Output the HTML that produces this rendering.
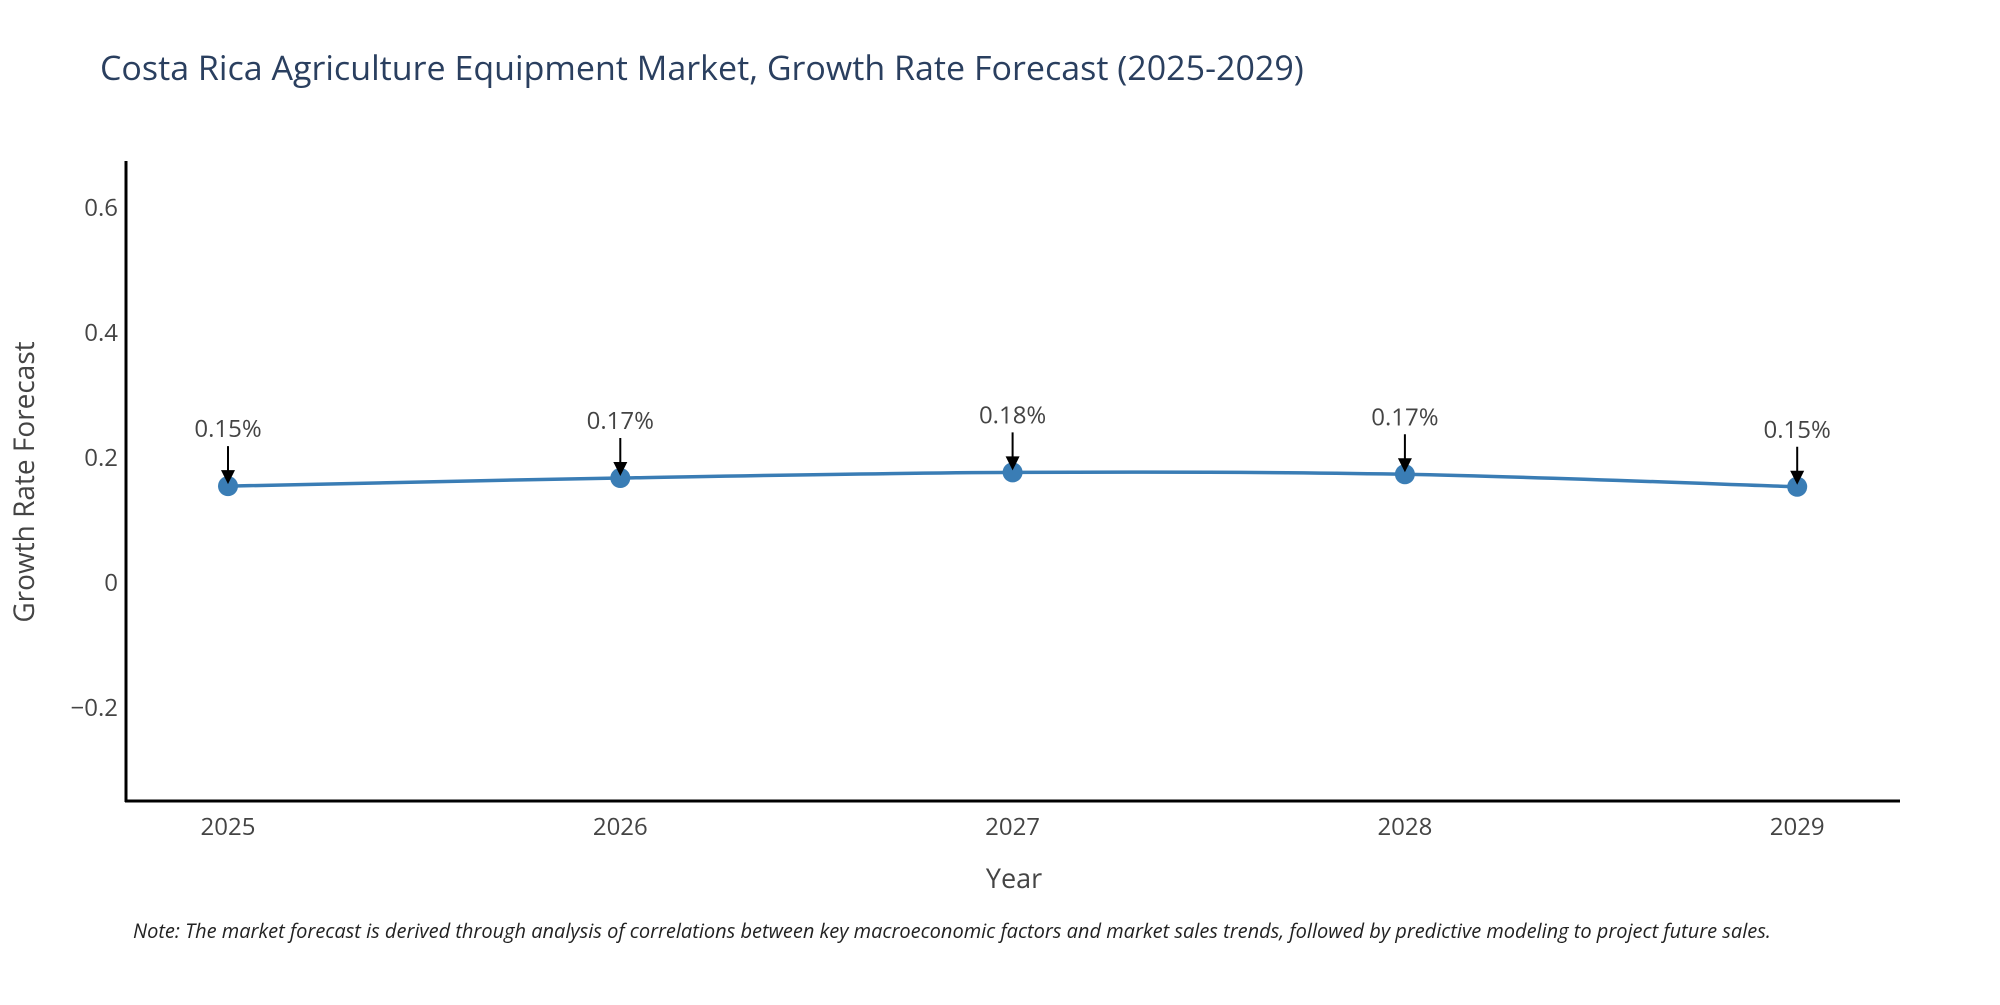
<!DOCTYPE html>
<html><head><meta charset="utf-8"><style>
body{margin:0;background:#fff;}
svg text{font-family:"Open Sans","Liberation Sans",sans-serif;}
</style></head><body>
<svg id="chart" width="2000" height="1000" xmlns="http://www.w3.org/2000/svg">
<rect width="2000" height="1000" fill="#fff"/>
<text x="100" y="80" font-size="34" fill="#2a3f5f">Costa Rica Agriculture Equipment Market, Growth Rate Forecast (2025-2029)</text>
<g id="yticks"></g>
<g id="xticks"></g>
<line x1="126" y1="161" x2="126" y2="802" stroke="#000" stroke-width="3"/>
<line x1="125" y1="801" x2="1900" y2="801" stroke="#000" stroke-width="3"/>
<path id="series" fill="none" stroke="#3a7db5" stroke-width="3.5"/>
<g id="marks"></g>
<g id="annos"></g>
<text x="1014" y="888" font-size="27" fill="#444" text-anchor="middle">Year</text>
<text transform="translate(34,482) rotate(-90)" font-size="28" fill="#444" text-anchor="middle">Growth Rate Forecast</text>
<text x="133" y="938" font-size="20" font-style="italic" fill="#222">Note: The market forecast is derived through analysis of correlations between key macroeconomic factors and market sales trends, followed by predictive modeling to project future sales.</text>
</svg>
<script>
const years = [2025, 2026, 2027, 2028, 2029];
const growth = [0.155, 0.168, 0.177, 0.174, 0.154];
const labels = ["0.15%", "0.17%", "0.18%", "0.17%", "0.15%"];
const yTicks = [-0.2, 0, 0.2, 0.4, 0.6];
const yTickLabels = ["\u22120.2", "0", "0.2", "0.4", "0.6"];

const NS = "http://www.w3.org/2000/svg";
function xs(v){ return 228 + (v - 2025) * 392.3; }
function ys(v){ return 583 - v * 625; }
function mk(tag, attrs, parent){ const e = document.createElementNS(NS, tag); for (const k in attrs) e.setAttribute(k, attrs[k]); parent.appendChild(e); return e; }

const yg = document.getElementById('yticks');
yTicks.forEach((t, i) => {
  const el = mk('text', {x: 118, y: ys(t) + 8, 'font-size': 24, fill: '#444', 'text-anchor': 'end'}, yg);
  
  
  el.textContent = yTickLabels[i];
});
const xg = document.getElementById('xticks');
years.forEach(y => {
  const el = mk('text', {x: xs(y), y: 835, 'font-size': 24, fill: '#444', 'text-anchor': 'middle'}, xg);
  
  
  el.textContent = String(y);
});

const pts = years.map((y, i) => [xs(y), ys(growth[i])]);
let d = 'M' + pts[0][0] + ',' + pts[0][1];
const t = 0.5 / 3 * 2;
for (let i = 0; i < pts.length - 1; i++) {
  const p0 = pts[Math.max(0, i - 1)], p1 = pts[i], p2 = pts[i + 1], p3 = pts[Math.min(pts.length - 1, i + 2)];
  const c1 = [p1[0] + (p2[0] - p0[0]) * t / 2, p1[1] + (p2[1] - p0[1]) * t / 2];
  const c2 = [p2[0] - (p3[0] - p1[0]) * t / 2, p2[1] - (p3[1] - p1[1]) * t / 2];
  d += ' C' + c1.join(',') + ' ' + c2.join(',') + ' ' + p2.join(',');
}
document.getElementById('series').setAttribute('d', d);

const mg = document.getElementById('marks');
const ag = document.getElementById('annos');
pts.forEach((p, i) => {
  const c = mk('circle', {cx: p[0], cy: p[1], r: 10, fill: '#3a7db5'}, mg);
  
  
  const ln = mk('line', {x1: p[0], y1: p[1] - 40, x2: p[0], y2: p[1] - 14, stroke: '#000', 'stroke-width': 2}, ag);
  
  
  const hd = mk('polygon', {points: (p[0]-7)+','+(p[1]-16)+' '+(p[0]+7)+','+(p[1]-16)+' '+p[0]+','+(p[1]-2), fill: '#000'}, ag);
  
  
  const tx = mk('text', {x: p[0], y: p[1] - 49, 'font-size': 24, fill: '#444', 'text-anchor': 'middle'}, ag);
  
  
  tx.textContent = labels[i];
});
</script>
</body></html>
